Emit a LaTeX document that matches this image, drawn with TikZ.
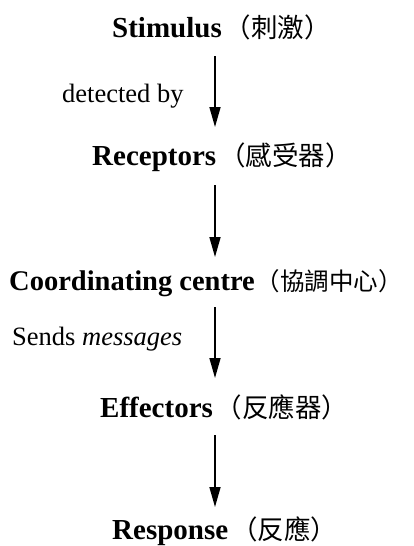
\documentclass[tikz,border=0pt]{standalone}
\usepackage{fontspec}
\setmainfont{Liberation Serif}
\newfontfamily\cjk{Noto Sans CJK TC}
\usetikzlibrary{arrows.meta}
\tikzset{
  title/.style={anchor=base west, inner sep=0pt, font=\fontsize{29}{31}\selectfont\bfseries},
  lab/.style={anchor=base west, inner sep=0pt, font=\fontsize{26.5}{30}\selectfont},
  arr/.style={line width=1.6pt, -{Triangle[length=20pt,width=11pt]}}
}
\newcommand{\zh}[3][3pt]{\hspace{#1}{\cjk\fontsize{#2}{28}\selectfont\mdseries （#3）}}
\begin{document}
\begin{tikzpicture}[x=1pt,y=-1pt]
\useasboundingbox (0,0) rectangle (413,546);
\node[title] (stim) at (112,37) {Stimulus\zh{26.5}{刺激}};
\node[title] (rec) at (92,165) {Receptors\zh{26.5}{感受器}};
\node[title, font=\fontsize{28.5}{31}\selectfont\bfseries] (coord) at (9,290) {Coordinating centre\zh[1pt]{24.5}{協調中心}};
\node[title] (eff) at (100,417) {Effectors\zh{26.5}{反應器}};
\node[title] (resp) at (112,539) {Response\zh{26.5}{反應}};
\node[lab] (det) at (62,102) {detected by};
\node[lab] (sends) at (12,345) {Sends \textit{messages}};
\coordinate (a1s) at (215,56);  \coordinate (a1e) at (215,127);
\coordinate (a2s) at (215,185); \coordinate (a2e) at (215,257);
\coordinate (a3s) at (215,307); \coordinate (a3e) at (215,378);
\coordinate (a4s) at (215,435); \coordinate (a4e) at (215,507);
\draw[arr] (a1s) -- (a1e);
\draw[arr] (a2s) -- (a2e);
\draw[arr] (a3s) -- (a3e);
\draw[arr] (a4s) -- (a4e);
\end{tikzpicture}
\end{document}
